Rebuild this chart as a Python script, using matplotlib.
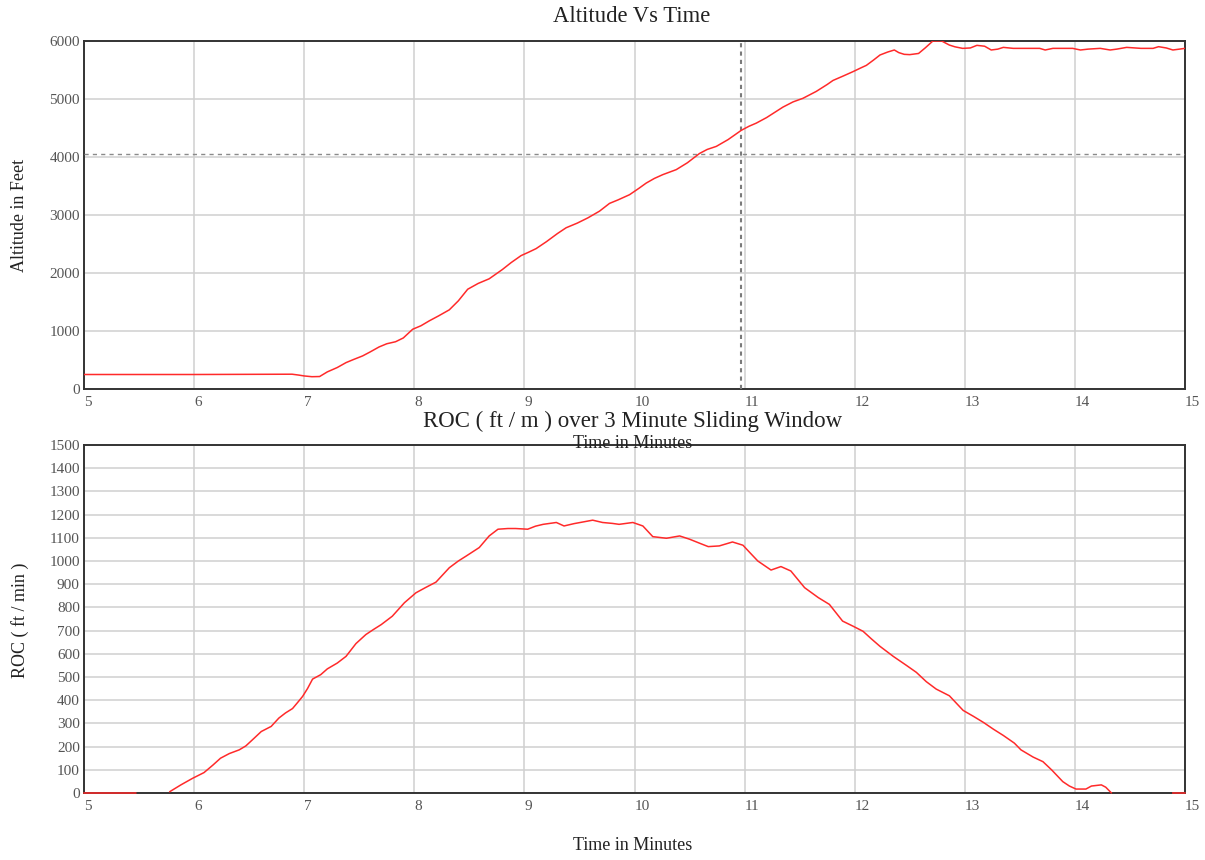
import numpy as np
import matplotlib
matplotlib.use("Agg")
import matplotlib.pyplot as plt

plt.rcParams["font.family"] = ["Liberation Serif", "DejaVu Serif"]

# Altitude trace (minutes, feet)
alt_time = [5.0, 6.0, 6.89, 6.95, 7.0, 7.07, 7.14, 7.21, 7.3, 7.38, 7.45, 7.53, 7.6, 7.68,
            7.75, 7.83, 7.9, 7.985, 8.06, 8.136, 8.22, 8.318, 8.4, 8.485, 8.58, 8.68, 8.8,
            8.88, 8.97, 9.04, 9.106, 9.2, 9.3, 9.379, 9.48, 9.576, 9.682, 9.773, 9.85, 9.955,
            10.04, 10.106, 10.18, 10.257, 10.379, 10.48, 10.59, 10.66, 10.743, 10.85, 10.97,
            11.04, 11.106, 11.2, 11.348, 11.44, 11.53, 11.65, 11.75, 11.803, 11.9, 11.985,
            12.06, 12.106, 12.17, 12.23, 12.3, 12.36, 12.4, 12.45, 12.5, 12.58, 12.64, 12.71,
            12.79, 12.86, 12.91, 12.98, 13.05, 13.11, 13.18, 13.24, 13.3, 13.35, 13.44, 13.6,
            13.68, 13.73, 13.8, 13.98, 14.05, 14.12, 14.23, 14.32, 14.38, 14.47, 14.6, 14.71,
            14.76, 14.83, 14.89, 14.95, 15.0]
alt_feet = [250, 250, 255, 240, 225, 212, 215, 295, 370, 455, 510, 570, 640, 725,
            780, 815, 880, 1030, 1090, 1175, 1260, 1365, 1520, 1720, 1820, 1900, 2060,
            2180, 2300, 2360, 2420, 2540, 2680, 2780, 2860, 2950, 3066, 3200, 3260, 3350,
            3460, 3550, 3630, 3696, 3782, 3900, 4060, 4130, 4183, 4300, 4460,
            4530, 4584, 4680, 4860, 4950, 5012, 5130, 5250, 5320, 5400, 5472,
            5540, 5580, 5670, 5759, 5810, 5845, 5800, 5770, 5765, 5785, 5880, 6000,
            6000, 5930, 5900, 5873, 5880, 5925, 5910, 5845, 5860, 5890, 5873, 5873,
            5873, 5845, 5873, 5873, 5845, 5860, 5873, 5845, 5860, 5890, 5873, 5873,
            5902, 5880, 5845, 5860, 5873]

# Rate of climb, 3 minute sliding window (minutes, ft/min); nan = no value
roc_time = [5.0, 5.47, 5.5, 5.78, 5.88, 5.985, 6.09, 6.17, 6.24, 6.32, 6.41, 6.47, 6.545,
            6.61, 6.7, 6.77, 6.83, 6.894, 6.94, 6.985, 7.03, 7.076, 7.15, 7.21, 7.3, 7.38,
            7.47, 7.56, 7.63, 7.7, 7.8, 7.91, 8.015, 8.1, 8.197, 8.318, 8.4, 8.47, 8.59,
            8.68, 8.76, 8.85, 8.92, 9.03, 9.1, 9.17, 9.29, 9.36, 9.45, 9.53, 9.62, 9.71,
            9.8, 9.86, 9.985, 10.076, 10.166, 10.29, 10.41, 10.5, 10.6, 10.67, 10.77,
            10.89, 10.985, 11.05, 11.12, 11.24, 11.33, 11.42, 11.545, 11.67, 11.77, 11.89,
            11.985, 12.076, 12.15, 12.23, 12.35, 12.47, 12.56, 12.65, 12.74, 12.86, 12.985,
            13.08, 13.17, 13.26, 13.35, 13.45, 13.51, 13.62, 13.71, 13.79, 13.89, 13.95,
            14.01, 14.1, 14.15, 14.24, 14.28, 14.33, 14.35, 14.89, 15.0]
roc_fpm = [0, 0, np.nan, 6, 35, 63, 88, 120, 150, 170, 186, 203, 236,
           265, 287, 323, 345, 364, 390, 416, 450, 491, 510, 535, 560, 589,
           644, 683, 705, 726, 762, 820, 863, 885, 909, 971, 1000, 1021, 1058,
           1108, 1137, 1140, 1140, 1137, 1150, 1158, 1166, 1151, 1161, 1168, 1176, 1166,
           1162, 1158, 1166, 1151, 1105, 1098, 1108, 1094, 1075, 1062, 1065,
           1082, 1068, 1035, 1000, 961, 976, 957, 885, 842, 813, 741,
           719, 697, 665, 632, 589, 550, 520, 480, 448, 419, 356,
           330, 304, 275, 248, 215, 186, 155, 135, 99, 49, 30,
           17, 17, 30, 35, 25, 1, np.nan, 0, 0]

cursor_time = 10.97
cursor_alt = 4055

W, H = 1205, 860
fig = plt.figure(figsize=(W / 100, H / 100), dpi=100)

def px_axes(left, top, right, bottom):
    return fig.add_axes([left / W, 1 - bottom / H, (right - left) / W, (bottom - top) / H])

ax1 = px_axes(84, 41, 1185, 389)
ax2 = px_axes(84, 445, 1185, 793)

red = "#ff2a2a"
grid_c = "#d0d0d0"
tick_c = "#555555"

for ax in (ax1, ax2):
    ax.set_xlim(5, 15)
    ax.set_xticks(range(5, 16))
    ax.grid(True, color=grid_c, linewidth=1.1)
    ax.set_axisbelow(True)
    for s in ax.spines.values():
        s.set_color("#333333")
        s.set_linewidth(1.4)
    ax.tick_params(length=0, labelsize=11, labelcolor=tick_c, pad=3)
    ax.tick_params(axis="x", pad=5)
    for lab in ax.get_xticklabels():
        lab.set_horizontalalignment("left")

# top: altitude
ax1.set_ylim(0, 6000)
ax1.set_yticks(range(0, 6001, 1000))
ax1.plot(alt_time, alt_feet, color=red, linewidth=1.1, zorder=3)
ax1.axvline(cursor_time, color="#7a7a7a", linewidth=1.5, linestyle=(0, (2, 2)), zorder=2.6)
ax1.axhline(cursor_alt, color="#8a8a8a", linewidth=1.0, linestyle=(0, (3, 3)), zorder=2.6)

# bottom: rate of climb
ax2.set_ylim(0, 1500)
ax2.set_yticks(range(0, 1501, 100))
ax2.plot(roc_time, roc_fpm, color=red, linewidth=1.1, zorder=3, clip_on=False)

fig.text(632 / W, 1 - 17 / H, "Altitude Vs Time", ha="center", va="center", fontsize=16.3, color="#222222")
fig.text(633 / W, 1 - 443 / H, "Time in Minutes", ha="center", va="center", fontsize=13, color="#222222")
fig.text(20 / W, 1 - 215 / H, "Altitude in Feet", ha="center", va="center", rotation=90, fontsize=13, color="#222222")

fig.text(633 / W, 1 - 421 / H, "ROC ( ft / m ) over 3 Minute Sliding Window", ha="center", va="center", fontsize=16.5, color="#222222")
fig.text(633 / W, 1 - 845 / H, "Time in Minutes", ha="center", va="center", fontsize=13, color="#222222")
fig.text(20 / W, 1 - 620 / H, "ROC ( ft / min )", ha="center", va="center", rotation=90, fontsize=13, color="#222222")

fig.savefig("out.png", dpi=100)
